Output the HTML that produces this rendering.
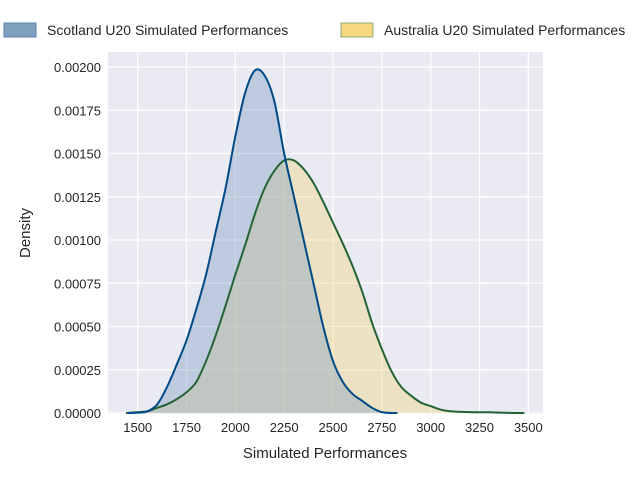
<!DOCTYPE html>
<html><head><meta charset="utf-8"><style>
body{margin:0;background:#fff;}
svg{display:block;font-family:"Liberation Sans","DejaVu Sans",sans-serif;}
</style></head><body>
<svg id="chart" width="640" height="480">
<rect x="108" y="52" width="435" height="362" fill="#eaeaf2"/>
<g id="grid"></g><g id="fills"></g><g id="lines"></g><g id="axes"></g>
<g>
<rect x="4" y="23" width="32" height="14" fill="#7f9fbf" stroke="#5e82a8"/>
<text x="47" y="35" font-size="14" fill="#262626">Scotland U20 Simulated Performances</text>
<rect x="341" y="23" width="32" height="14" fill="#f7d77f" stroke="#8fa878"/>
<text x="384" y="35" font-size="14" fill="#262626">Australia U20 Simulated Performances</text>
</g>
<text x="325" y="458" font-size="15" fill="#262626" text-anchor="middle">Simulated Performances</text>
<text transform="translate(30,233) rotate(-90)" font-size="15" fill="#262626" text-anchor="middle">Density</text>
</svg>
<script>
const xTicks=[1500,1750,2000,2250,2500,2750,3000,3250,3500];
const yTicks=[0,0.00025,0.0005,0.00075,0.001,0.00125,0.0015,0.00175,0.002];
const yTickLabels=["0.00000","0.00025","0.00050","0.00075","0.00100","0.00125","0.00150","0.00175","0.00200"];
const scotX=[1450,1500,1550,1600,1650,1700,1750,1800,1850,1900,1950,2000,2050,2100,2150,2200,2250,2300,2350,2400,2450,2500,2550,2600,2650,2700,2750,2800,2830];
const scotY=[0,0.000002,0.00001,0.00005,0.00015,0.00028,0.00042,0.0006,0.0008,0.00105,0.0013,0.0016,0.00185,0.00198,0.00195,0.0018,0.0015,0.00125,0.001,0.00075,0.0005,0.0003,0.00018,0.00011,0.00007,0.00003,0.000005,0,0];
const ausX=[1440,1500,1550,1600,1650,1700,1750,1800,1850,1900,1950,2000,2050,2100,2150,2200,2250,2300,2350,2400,2450,2500,2550,2600,2650,2700,2750,2800,2850,2900,2950,3000,3050,3100,3200,3300,3400,3480];
const ausY=[0,0.000005,0.00001,0.00003,0.00005,0.00008,0.00012,0.00018,0.0003,0.00045,0.00062,0.0008,0.00097,0.00115,0.0013,0.0014,0.00146,0.00146,0.00141,0.00133,0.00122,0.0011,0.00098,0.00085,0.0007,0.00052,0.00037,0.00024,0.00015,0.0001,0.00006,0.00004,0.00002,0.00001,0.000005,0.000004,0.000001,0];
const NS="http://www.w3.org/2000/svg";
const xs=v=>137.7+(v-1500)*(390.6/2000);
const ys=v=>413-v*(346/0.002);
function mk(tag,attrs,parent){const e=document.createElementNS(NS,tag);for(const k in attrs)e.setAttribute(k,attrs[k]);parent.appendChild(e);return e;}
const grid=document.getElementById('grid'),axes=document.getElementById('axes'),fills=document.getElementById('fills'),lines=document.getElementById('lines');
xTicks.forEach(t=>{
 const l=mk('line',{x1:xs(t),x2:xs(t),y1:52,y2:414,stroke:'#fff','stroke-width':1.2},grid);
 
 
 const tx=mk('text',{x:xs(t),y:432,'font-size':13,fill:'#262626','text-anchor':'middle'},axes);
 tx.textContent=t;
 
 
});
yTicks.forEach((t,i)=>{
 const l=mk('line',{x1:108,x2:543,y1:ys(t),y2:ys(t),stroke:'#fff','stroke-width':1.2},grid);
 
 
 const tx=mk('text',{x:101,y:ys(t)+5,'font-size':13,fill:'#262626','text-anchor':'end'},axes);
 tx.textContent=yTickLabels[i];
 
 
});
function smooth(X,Y){
 const p=X.map((x,i)=>[xs(x),ys(Y[i])]);
 let d='M'+p[0][0]+','+p[0][1];
 for(let i=0;i<p.length-1;i++){
  const p0=p[Math.max(0,i-1)],p1=p[i],p2=p[i+1],p3=p[Math.min(p.length-1,i+2)];
  const c1=[p1[0]+(p2[0]-p0[0])/6,p1[1]+(p2[1]-p0[1])/6];
  const c2=[p2[0]-(p3[0]-p1[0])/6,p2[1]-(p3[1]-p1[1])/6];
  d+='C'+c1[0]+','+Math.min(413,c1[1])+' '+c2[0]+','+Math.min(413,c2[1])+' '+p2[0]+','+p2[1];
 }
 return d;
}
function draw(X,Y,fill,stroke,name){
 const d=smooth(X,Y);
 const f=mk('path',{d:d+'L'+xs(X[X.length-1])+',413L'+xs(X[0])+',413Z',fill:fill,'fill-opacity':0.4,stroke:'none'},fills);
 
 
 const l=mk('path',{d:d,fill:'none',stroke:stroke,'stroke-width':2},lines);
 
 
}
draw(ausX,ausY,'#f2d47c','#256337','australia');
draw(scotX,scotY,'#7c9ec0','#004a87','scotland');
</script>
</body></html>
